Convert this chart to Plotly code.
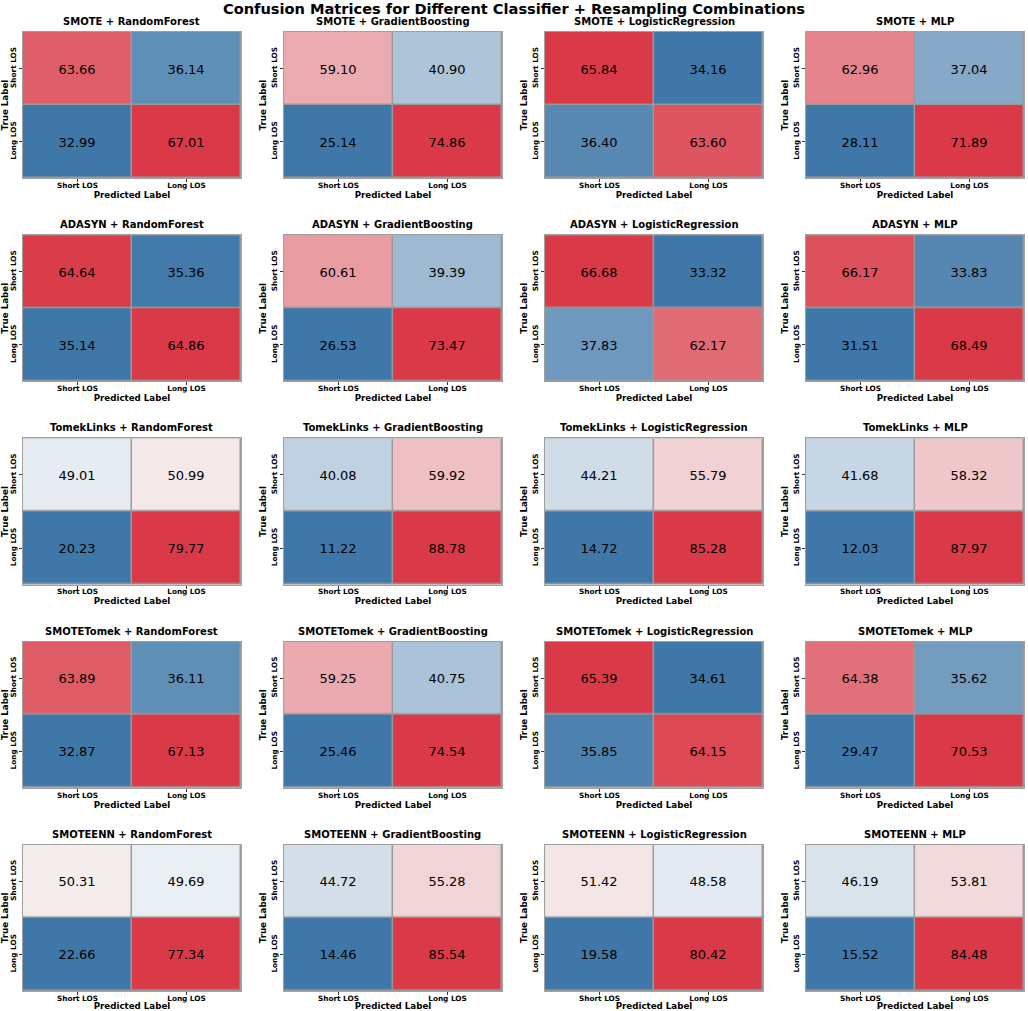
import plotly.graph_objects as go
from plotly.subplots import make_subplots

resamplers = ["SMOTE", "ADASYN", "TomekLinks", "SMOTETomek", "SMOTEENN"]
classifiers = ["RandomForest", "GradientBoosting", "LogisticRegression", "MLP"]
labels = ["Short LOS", "Long LOS"]

# row-normalised confusion matrices (%), one list per resampler, ordered as `classifiers`
smote = [
    [[63.66, 36.14], [32.99, 67.01]],
    [[59.10, 40.90], [25.14, 74.86]],
    [[65.84, 34.16], [36.40, 63.60]],
    [[62.96, 37.04], [28.11, 71.89]],
]
adasyn = [
    [[64.64, 35.36], [35.14, 64.86]],
    [[60.61, 39.39], [26.53, 73.47]],
    [[66.68, 33.32], [37.83, 62.17]],
    [[66.17, 33.83], [31.51, 68.49]],
]
tomeklinks = [
    [[49.01, 50.99], [20.23, 79.77]],
    [[40.08, 59.92], [11.22, 88.78]],
    [[44.21, 55.79], [14.72, 85.28]],
    [[41.68, 58.32], [12.03, 87.97]],
]
smotetomek = [
    [[63.89, 36.11], [32.87, 67.13]],
    [[59.25, 40.75], [25.46, 74.54]],
    [[65.39, 34.61], [35.85, 64.15]],
    [[64.38, 35.62], [29.47, 70.53]],
]
smoteenn = [
    [[50.31, 49.69], [22.66, 77.34]],
    [[44.72, 55.28], [14.46, 85.54]],
    [[51.42, 48.58], [19.58, 80.42]],
    [[46.19, 53.81], [15.52, 84.48]],
]
matrices = [smote, adasyn, tomeklinks, smotetomek, smoteenn]

FONT = "DejaVu Sans"
# blue -> light grey -> red, like seaborn diverging_palette(240, 10)
colorscale = [
    [0.0, "#3f78a8"],
    [127 / 256, "#ebeff4"],
    [128 / 256, "#f2f2f2"],
    [129 / 256, "#f5eded"],
    [1.0, "#da3a48"],
]

titles = [f"{r} + {c}" for r in resamplers for c in classifiers]
fig = make_subplots(
    rows=5,
    cols=4,
    subplot_titles=titles,
    horizontal_spacing=0.043,
    vertical_spacing=0.0594,
)

for i, res in enumerate(matrices):
    for j, z in enumerate(res):
        fig.add_trace(
            go.Heatmap(
                z=z,
                x=labels,
                y=labels,
                colorscale=colorscale,
                showscale=False,
                xgap=1.5,
                ygap=1.5,
                texttemplate="%{z:.2f}",
                textfont=dict(size=13, color="black", family=FONT),
                hoverinfo="skip",
            ),
            row=i + 1,
            col=j + 1,
        )

fig.update_xaxes(
    title_text="Predicted Label",
    title_font=dict(size=8.7, family=FONT, weight="bold", color="black"),
    title_standoff=0,
    tickfont=dict(size=7.3, family=FONT, weight="bold", color="black"),
    ticklabelstandoff=-3,
    ticks="outside",
    ticklen=3,
    tickcolor="#333",
    automargin=False,
    showgrid=False,
    zeroline=False,
    showline=True,
    mirror=True,
    linecolor="#a0a0a0",
    linewidth=1,
)
fig.update_yaxes(
    title_text="True Label",
    title_font=dict(size=8.7, family=FONT, weight="bold", color="black"),
    title_standoff=2,
    tickfont=dict(size=7.3, family=FONT, weight="bold", color="black"),
    tickangle=-90,
    ticks="outside",
    ticklen=3,
    tickcolor="#333",
    automargin=False,
    autorange="reversed",
    showgrid=False,
    zeroline=False,
    showline=True,
    mirror=True,
    linecolor="#a0a0a0",
    linewidth=1,
)

for ann in fig.layout.annotations:
    ann.font = dict(size=10, family=FONT, weight="bold", color="black")
    ann.yshift = 3

fig.update_layout(
    width=1028,
    height=1011,
    title=dict(
        text="Confusion Matrices for Different Classifier + Resampling Combinations",
        x=0.5,
        xanchor="center",
        y=0.996,
        yanchor="top",
        font=dict(size=14.6, family=FONT, weight="bold", color="black"),
    ),
    font=dict(family=FONT, color="black"),
    plot_bgcolor="#9a9a9a",
    paper_bgcolor="white",
    margin=dict(l=23, r=4, t=32, b=20),
)

# drop the page's default body margin so the figure sits at the window's corner
fig.write_html(
    "out.html",
    config={"displayModeBar": False},
    post_script="document.body.style.margin='0';",
)
